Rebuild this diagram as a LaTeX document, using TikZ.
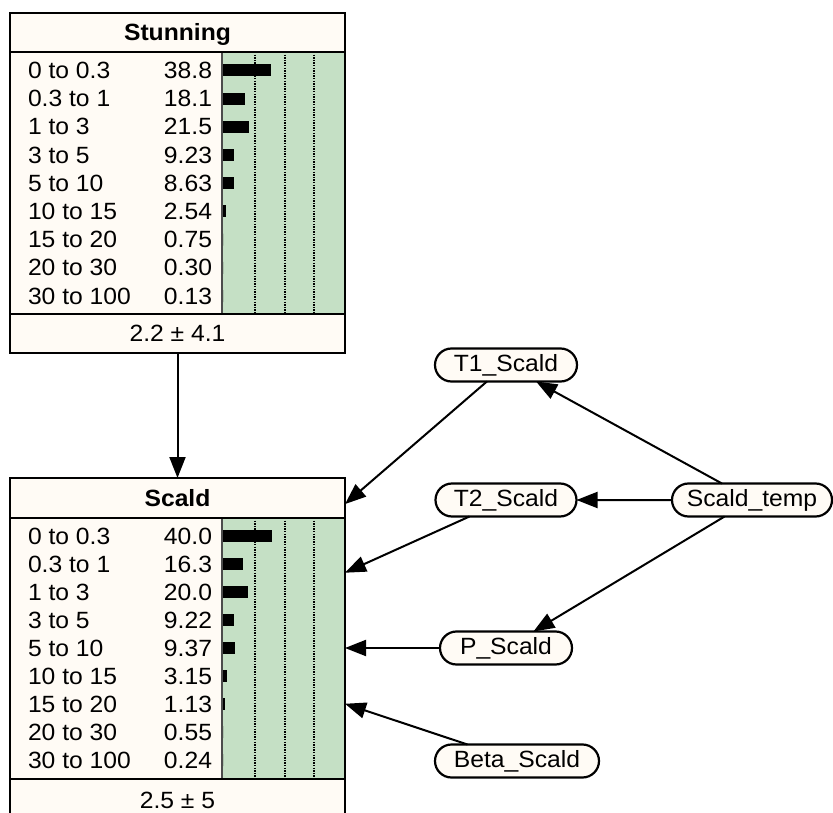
\documentclass[tikz,border=0pt]{standalone}
\usepackage{fontspec}
\setmainfont{Liberation Sans}[FakeStretch=1.05]
\usetikzlibrary{arrows.meta,shapes.misc}
\definecolor{cream}{RGB}{255,251,245}
\definecolor{pgreen}{RGB}{197,224,197}
\begin{document}
\begin{tikzpicture}[x=1pt,y=-1pt,
  every node/.style={inner sep=0pt,outer sep=0pt},
  txt/.style={font=\fontsize{23.5}{27}\selectfont},
  ttl/.style={font=\fontsize{23.5}{27}\selectfont\bfseries},
  boxbg/.style={fill=cream,draw=none},
  frame/.style={draw=black,line width=2.2pt},
  oval/.style={rounded rectangle,draw=black,line width=2.2pt,fill=cream,minimum height=33pt,font=\fontsize{23.5}{27}\selectfont},
  link/.style={line width=2pt,-{Triangle[length=21pt,width=16pt]}},
  gridline/.style={line width=1.5pt,dash pattern=on 1.4pt off 1.2pt},
  divider/.style={draw=black!70,line width=1.4pt}
]
\useasboundingbox (0,0) rectangle (833,813);

% ---------- Stunning ----------
\node[boxbg,minimum width=335pt,minimum height=340pt] (stun) at (177.5,183) {};
\fill[pgreen] (222,52) rectangle (345,314);
\foreach \gx in {255,285,314} \draw[gridline] (\gx,52) -- (\gx,314);
\draw[divider] (222,52) -- (222,314);
\draw[frame] (10,52) -- (345,52);
\draw[frame] (10,314) -- (345,314);
\node[ttl,anchor=base] (stun-t) at (177.5,41) {Stunning};
\node[txt,anchor=base] (stun-m) at (177.5,341) {2.2 ± 4.1};
\foreach \lab/\val/\bw [count=\i from 0] in {0 to 0.3/38.8/38.8, 0.3 to 1/18.1/18.1, 1 to 3/21.5/21.5, 3 to 5/9.23/9.23, 5 to 10/8.63/8.63, 10 to 15/2.54/2.54, 15 to 20/0.75/0, 20 to 30/0.30/0, 30 to 100/0.13/0}{
  \pgfmathsetmacro\yc{70.5+28.2*\i}
  \node[txt,anchor=base west] (stun-l\i) at (28,\yc+8) {\lab};
  \node[txt,anchor=base east] (stun-v\i) at (212,\yc+8) {\val};
  \fill[black] (223,\yc-6) rectangle ++(1.23*\bw,12);
}
\draw[frame] (stun.north west) rectangle (stun.south east);

% ---------- Scald ----------
\node[boxbg,minimum width=335pt,minimum height=340pt] (scald) at (177.5,648) {};
\fill[pgreen] (222,518) rectangle (345,779);
\foreach \gx in {255,285,314} \draw[gridline] (\gx,518) -- (\gx,779);
\draw[divider] (222,518) -- (222,779);
\draw[frame] (10,518) -- (345,518);
\draw[frame] (10,779) -- (345,779);
\node[ttl,anchor=base] (scald-t) at (177.5,506) {Scald};
\node[txt,anchor=base] (scald-m) at (177.5,808) {2.5 ± 5};
\foreach \lab/\val/\bw [count=\i from 0] in {0 to 0.3/40.0/40.0, 0.3 to 1/16.3/16.3, 1 to 3/20.0/20.0, 3 to 5/9.22/9.22, 5 to 10/9.37/9.37, 10 to 15/3.15/3.15, 15 to 20/1.13/1.6, 20 to 30/0.55/0, 30 to 100/0.24/0}{
  \pgfmathsetmacro\yc{536+28*\i}
  \node[txt,anchor=base west] (scald-l\i) at (28,\yc+8) {\lab};
  \node[txt,anchor=base east] (scald-v\i) at (212,\yc+8) {\val};
  \fill[black] (223,\yc-6) rectangle ++(1.23*\bw,12);
}
\draw[frame] (scald.north west) rectangle (scald.south east);

% ---------- small nodes ----------
\node[oval,minimum width=142pt] (t1) at (506,365) {T1\_Scald};
\node[oval,minimum width=141pt] (t2) at (506,500) {T2\_Scald};
\node[oval,minimum width=160pt] (temp) at (752,500) {Scald\_temp};
\node[oval,minimum width=132pt] (p) at (506,648) {P\_Scald};
\node[oval,minimum width=164pt] (beta) at (517,761) {Beta\_Scald};

% ---------- connectors ----------
\draw[link] (stun) -- (scald);
\draw[link] (t1) -- (scald);
\draw[link] (t2) -- (scald);
\draw[link] (p) -- (scald);
\draw[link] (beta) -- (scald);
\draw[link] (temp) -- (t1);
\draw[link] (temp) -- (t2);
\draw[link] (temp) -- (p);
\end{tikzpicture}
\end{document}
